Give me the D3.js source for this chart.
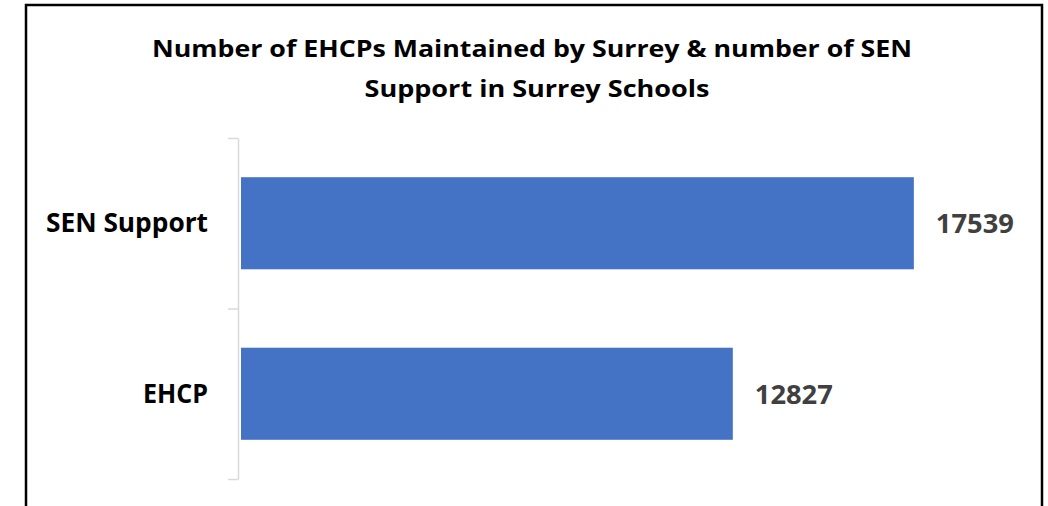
<!DOCTYPE html>
<html>
<head>
<meta charset="utf-8">
<script src="https://cdn.jsdelivr.net/npm/d3@7"></script>
<style>
  body { margin: 0; background: #fff; }
  text { font-family: "Open Sans", "Noto Sans", sans-serif; font-weight: bold; }
</style>
</head>
<body>
<script>
// data
var categories = ["SEN Support", "EHCP"];
var values = [17539, 12827];
var titleLines = ["Number of EHCPs Maintained by Surrey & number of SEN",
                  "Support in Surrey Schools"];

var width = 1048, height = 506;

var svg = d3.select("body").append("svg")
    .attr("width", width)
    .attr("height", height);

// chart border
svg.append("rect")
    .attr("x", 26)
    .attr("y", 5)
    .attr("width", 1016)
    .attr("height", 530)
    .attr("fill", "none")
    .attr("stroke", "#000")
    .attr("stroke-width", 2.5);

// title
svg.append("text")
    .attr("x", 532).attr("y", 57)
    .attr("text-anchor", "middle")
    .attr("font-size", 24)
    .attr("textLength", 760)
    .attr("lengthAdjust", "spacingAndGlyphs")
    .attr("fill", "#000")
    .text(titleLines[0]);
svg.append("text")
    .attr("x", 537).attr("y", 97)
    .attr("text-anchor", "middle")
    .attr("font-size", 24)
    .attr("textLength", 345)
    .attr("lengthAdjust", "spacingAndGlyphs")
    .attr("fill", "#000")
    .text(titleLines[1]);

// scales
var plotTop = 138, plotBottom = 479, x0 = 240;
var xScale = d3.scaleLinear().domain([0, 20000]).range([x0, x0 + 20000 * 0.03842]);
var yScale = d3.scaleBand().domain(categories).range([plotTop, plotBottom]).paddingInner(0.46).paddingOuter(0.23);
var edgeScale = d3.scaleLinear().domain([0, categories.length]).range([plotTop, plotBottom]);

// axis line with outward ticks at band edges
var axisG = svg.append("g")
    .attr("transform", "translate(238,0)")
    .call(d3.axisLeft(edgeScale)
        .tickValues(d3.range(categories.length + 1))
        .tickSize(10)
        .tickSizeOuter(0)
        .tickFormat(""));
axisG.selectAll("path, line").attr("stroke", "#d9d9d9").attr("stroke-width", 1.5);

// category labels
var catWidths = {"SEN Support": 162, "EHCP": 65};
svg.selectAll(".cat")
    .data(categories)
    .enter().append("text")
    .attr("class", "cat")
    .attr("x", 208)
    .attr("y", d => yScale(d) + yScale.bandwidth() / 2 + 9)
    .attr("text-anchor", "end")
    .attr("font-size", 27)
    .attr("textLength", d => catWidths[d])
    .attr("lengthAdjust", "spacingAndGlyphs")
    .attr("fill", "#000")
    .text(d => d);

// bars
svg.selectAll(".bar")
    .data(values)
    .enter().append("rect")
    .attr("class", "bar")
    .attr("x", xScale(0) + 1)
    .attr("y", (d, i) => yScale(categories[i]))
    .attr("width", d => xScale(d) - xScale(0) - 1)
    .attr("height", yScale.bandwidth())
    .attr("fill", "#4472C4");

// value labels
svg.selectAll(".val")
    .data(values)
    .enter().append("text")
    .attr("class", "val")
    .attr("x", d => xScale(d) + 22)
    .attr("y", (d, i) => yScale(categories[i]) + yScale.bandwidth() / 2 + 10)
    .attr("font-size", 27)
    .attr("textLength", 78)
    .attr("lengthAdjust", "spacingAndGlyphs")
    .attr("fill", "#404040")
    .text(d => d);
</script>
</body>
</html>
